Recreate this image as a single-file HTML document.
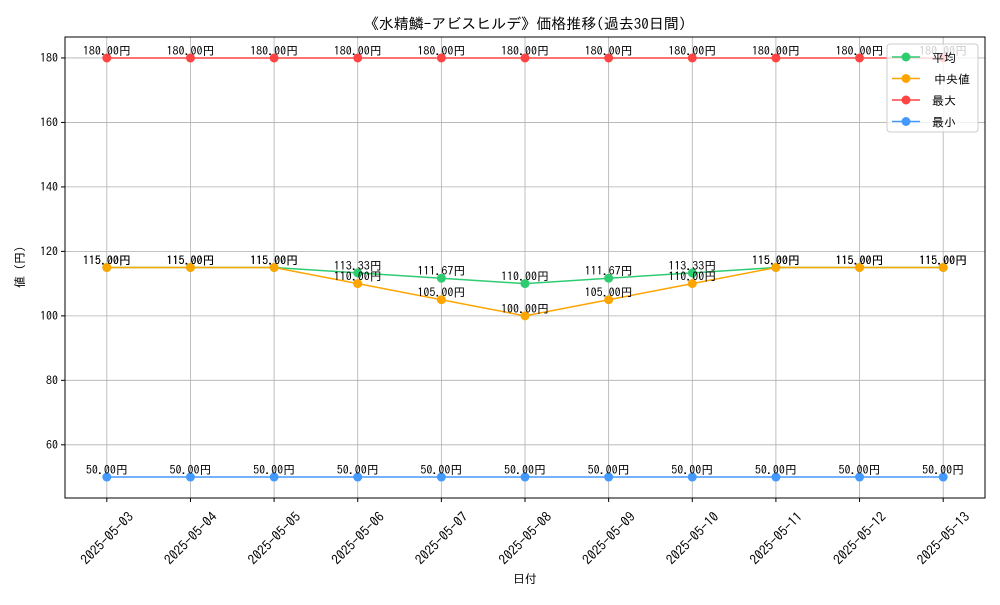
<!DOCTYPE html>
<html><head><meta charset="utf-8"><style>
body{margin:0;background:#fff}
svg text{font-family:"IPAGothic","Noto Sans CJK JP",sans-serif;fill:#000}
</style></head><body>
<svg id="c" width="1000" height="600" xmlns="http://www.w3.org/2000/svg">
<rect width="1000" height="600" fill="#fff"/>
<text x="525" y="29" font-size="15" text-anchor="middle">《水精鱗-アビスヒルデ》価格推移(過去30日間)</text>
<text x="525" y="583" font-size="12" text-anchor="middle">日付</text>
<text x="24" y="267" font-size="12" text-anchor="middle" transform="rotate(-90 24 267)">値 (円)</text>
<g id="grid"></g><g id="ticks"></g><g id="series"></g><g id="labels"></g>
<rect x="65" y="37" width="920" height="461" fill="none" stroke="#000" stroke-width="1"/>
<g id="legend"></g>
</svg>
<script>
const dates=["2025-05-03","2025-05-04","2025-05-05","2025-05-06","2025-05-07","2025-05-08","2025-05-09","2025-05-10","2025-05-11","2025-05-12","2025-05-13"];
const meanVals=[115,115,115,113.33,111.67,110,111.67,113.33,115,115,115];
const medianVals=[115,115,115,110,105,100,105,110,115,115,115];
const maxVals=[180,180,180,180,180,180,180,180,180,180,180];
const minVals=[50,50,50,50,50,50,50,50,50,50,50];
const yTicks=[60,80,100,120,140,160,180];
const seriesNames=["平均","中央値","最大","最小"];
const NS="http://www.w3.org/2000/svg";
const L=65,R=985,T=37,B=498;
const yMin=43.5,yMax=186.5;
const xs=i=>L+(i+0.5)*(R-L)/dates.length;
const ys=v=>B-(v-yMin)/(yMax-yMin)*(B-T);
function mk(tag,attrs,parent){const e=document.createElementNS(NS,tag);for(const k in attrs)e.setAttribute(k,attrs[k]);parent.appendChild(e);return e;}
const grid=document.getElementById('grid'),ticks=document.getElementById('ticks'),ser=document.getElementById('series'),lab=document.getElementById('labels'),leg=document.getElementById('legend');
dates.forEach((d,i)=>{const x=xs(i);
 let g=mk('line',{x1:x,x2:x,y1:T,y2:B,stroke:'#b0b0b0','stroke-width':0.8},grid);
 
 let t=mk('line',{x1:x,x2:x,y1:B,y2:B+4,stroke:'#000'},ticks);
 
 let tx=mk('text',{x:x,y:538,'font-size':13.5,'text-anchor':'middle','dominant-baseline':'central',transform:`rotate(-45 ${x} 538)`},ticks);
 tx.textContent=d;
});
yTicks.forEach(v=>{const y=ys(v);
 let g=mk('line',{x1:L,x2:R,y1:y,y2:y,stroke:'#b0b0b0','stroke-width':0.8},grid);
 
 let t=mk('line',{x1:L-4,x2:L,y1:y,y2:y,stroke:'#000'},ticks);
 
 let tx=mk('text',{x:L-7,y:y+4,'font-size':12,'text-anchor':'end'},ticks);
 tx.textContent=v;
});
const allSeries=[meanVals,medianVals,maxVals,minVals];
const colors=["#2ecc71","#ffa500","#ff4444","#4499ff"];
const keys=["mean","median","max","min"];
allSeries.forEach((vals,s)=>{
 const p=mk('polyline',{points:vals.map((v,i)=>xs(i)+','+ys(v)).join(' '),fill:'none',stroke:colors[s],'stroke-width':1.5},ser);
 
 vals.forEach((v,i)=>{
  const c=mk('circle',{cx:xs(i),cy:ys(v),r:4.5,fill:colors[s]},ser);
  
  const t=mk('text',{x:xs(i),y:ys(v)-3,'font-size':12,'text-anchor':'middle'},lab);
  t.textContent=v.toFixed(2)+'円';
  
 });
});
const box=mk('rect',{x:887,y:44,width:91,height:88,rx:3,fill:'#fff','fill-opacity':0.8,stroke:'#ccc'},leg);

seriesNames.forEach((n,s)=>{const y=57+s*21.5;
 const l=mk('line',{x1:892,x2:920,y1:y,y2:y,stroke:colors[s],'stroke-width':1.5},leg);
 
 const c=mk('circle',{cx:906,cy:y,r:4.5,fill:colors[s]},leg);
 
 const t=mk('text',{x:s==1?934:932,y:y+5,'font-size':12},leg);
 t.textContent=n;
});
</script>
</body></html>
